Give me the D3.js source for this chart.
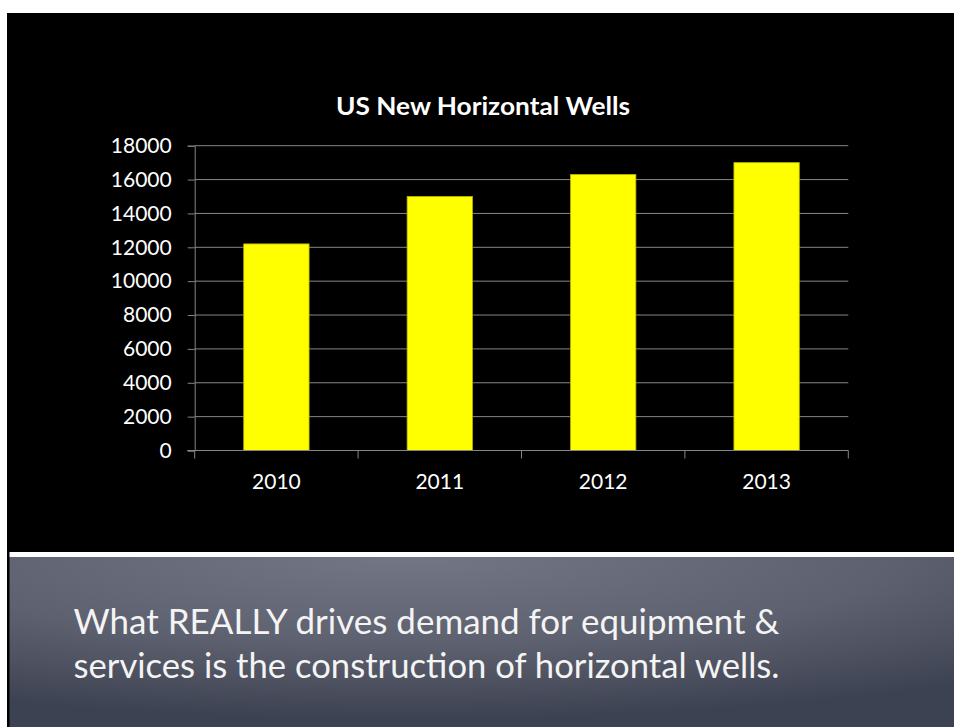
<!DOCTYPE html>
<html>
<head>
<meta charset="utf-8">
<script src="https://cdn.jsdelivr.net/npm/d3@7"></script>
<style>
  body { margin: 0; background: #fff; }
  svg { display: block; }
</style>
</head>
<body>
<div id="chart"></div>
<script>
// chart data
const years = ["2010", "2011", "2012", "2013"];
const wells = [12200, 15000, 16300, 17000];
const yTicks = [0, 2000, 4000, 6000, 8000, 10000, 12000, 14000, 16000, 18000];
const title = "US New Horizontal Wells";
const captionLines = [
  "What REALLY drives demand for equipment &",
  "services is the construction of horizontal wells.",
];

const width = 954,
  height = 727;
const font = "Lato, 'Open Sans', sans-serif";

const svg = d3
  .select("#chart")
  .append("svg")
  .attr("width", width)
  .attr("height", height);

// slide background
const defs = svg.append("defs");
const grad = defs
  .append("radialGradient")
  .attr("id", "panel")
  .attr("cx", "42%")
  .attr("cy", "0%")
  .attr("r", "95%");
grad.append("stop").attr("offset", "0%").attr("stop-color", "#737684");
grad.append("stop").attr("offset", "55%").attr("stop-color", "#5d606e");
grad.append("stop").attr("offset", "100%").attr("stop-color", "#3d4252");

svg.append("rect").attr("x", 7).attr("y", 13).attr("width", width - 7).attr("height", height - 13).attr("fill", "#000");
svg.append("rect").attr("x", 9.5).attr("y", 552).attr("width", width - 9.5).attr("height", 5).attr("fill", "#fff");
svg.append("rect").attr("x", 9.5).attr("y", 557).attr("width", width - 9.5).attr("height", height - 557).attr("fill", "url(#panel)");

// scales
const x = d3.scaleBand().domain(years).range([194.7, 848.3]).paddingInner(0.6).paddingOuter(0.3);
const y = d3.scaleLinear().domain([0, 18000]).range([450.5, 145.7]);

const g = svg.append("g");

// gridlines
g.selectAll(".grid")
  .data(yTicks.slice(1))
  .join("line")
  .attr("class", "grid")
  .attr("x1", 194.7)
  .attr("x2", 848.3)
  .attr("y1", (d) => y(d))
  .attr("y2", (d) => y(d))
  .attr("stroke", "#868686")
  .attr("stroke-width", 1);

// y axis
const yAxis = g
  .append("g")
  .attr("transform", "translate(194.7,0)")
  .call(d3.axisLeft(y).tickValues(yTicks).tickSize(7).tickPadding(16).tickFormat((d) => d));
yAxis.selectAll("path, line").attr("stroke", "#868686");
yAxis
  .selectAll("text")
  .attr("fill", "#fff")
  .style("font-family", font)
  .style("font-size", "21px");

// bars
g.selectAll(".bar")
  .data(wells)
  .join("rect")
  .attr("class", "bar")
  .attr("x", (d, i) => x(years[i]))
  .attr("y", (d) => y(d))
  .attr("width", x.bandwidth())
  .attr("height", (d) => y(0) - y(d))
  .attr("fill", "#ffff00")
  .attr("stroke", "#b5b500")
  .attr("stroke-width", 0.8);

// x axis: baseline, category dividers and labels
const x0 = x.range()[0];
g.append("line")
  .attr("x1", 187.3)
  .attr("x2", 848.3)
  .attr("y1", y(0))
  .attr("y2", y(0))
  .attr("stroke", "#868686");

g.selectAll(".xtick")
  .data(d3.range(years.length + 1))
  .join("line")
  .attr("class", "xtick")
  .attr("x1", (i) => x0 + i * x.step())
  .attr("x2", (i) => x0 + i * x.step())
  .attr("y1", y(0))
  .attr("y2", y(0) + 8)
  .attr("stroke", "#868686");

g.selectAll(".xlabel")
  .data(years)
  .join("text")
  .attr("class", "xlabel")
  .attr("x", (d) => x(d) + x.bandwidth() / 2)
  .attr("y", 489)
  .attr("text-anchor", "middle")
  .attr("fill", "#fff")
  .style("font-family", font)
  .style("font-size", "21px")
  .text((d) => d);

// title
svg
  .append("text")
  .attr("x", 483)
  .attr("y", 115)
  .attr("text-anchor", "middle")
  .attr("fill", "#fff")
  .attr("textLength", 294)
  .attr("lengthAdjust", "spacingAndGlyphs")
  .style("font-family", font)
  .style("font-size", "25px")
  .style("font-weight", "bold")
  .text(title);

// caption on the grey panel
svg
  .selectAll(".caption")
  .data(captionLines)
  .join("text")
  .attr("class", "caption")
  .attr("x", 73.5)
  .attr("y", (d, i) => 633.5 + i * 44)
  .attr("fill", "#f4f4f4")
  .attr("textLength", 706)
  .attr("lengthAdjust", "spacingAndGlyphs")
  .style("font-family", font)
  .style("font-size", "35px")
  .text((d) => d);
</script>
</body>
</html>
